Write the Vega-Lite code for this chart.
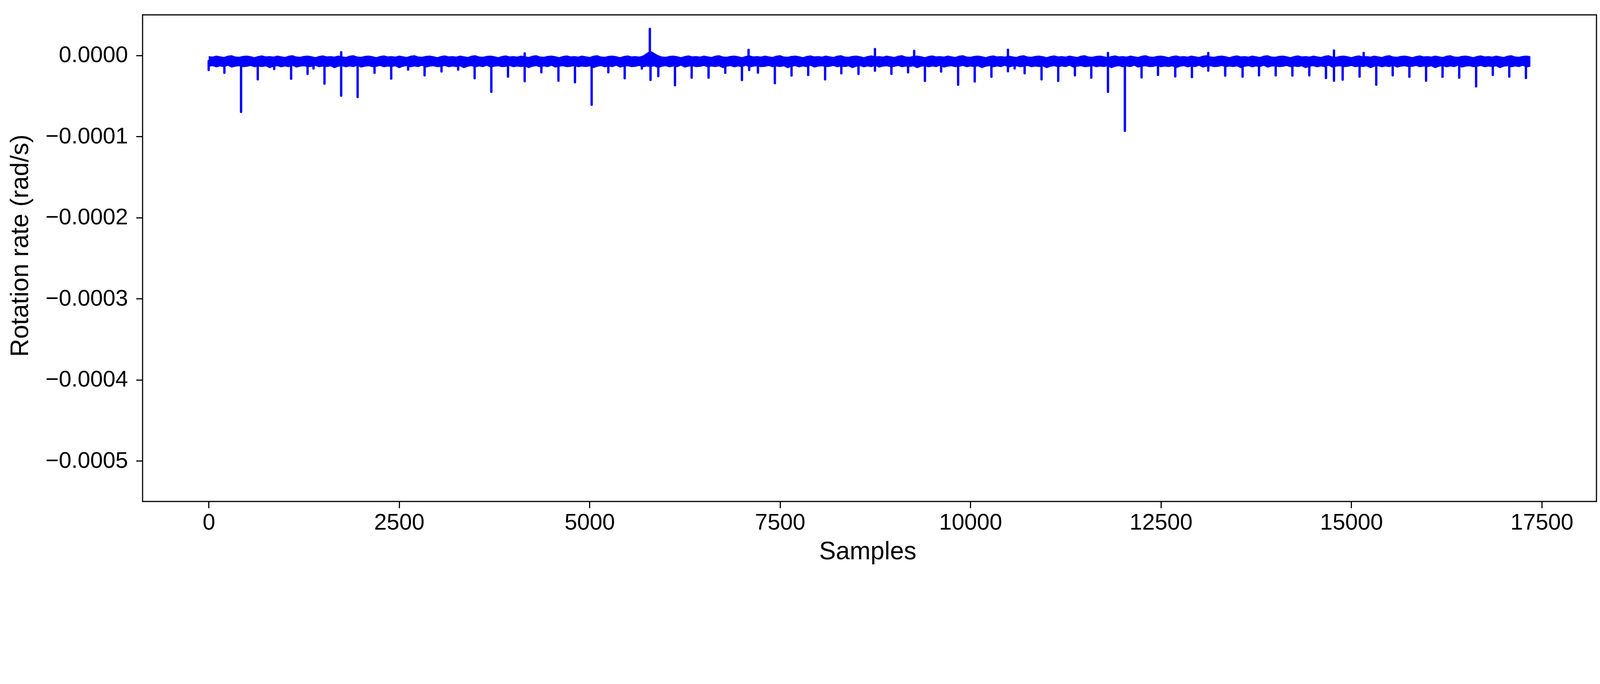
{
"$schema": "https://vega.github.io/schema/vega-lite/v6.json",
"width": 3722,
"height": 1245,
"autosize": {"type": "none"},
"padding": {"left": 365, "top": 38, "right": 41, "bottom": 175},
"background": "white",
"datasets": {
"band": [
{"x":0,"h":-0.8e-6,"l":-14.0e-6},{"x":50,"h":-1.5e-6,"l":-13.2e-6},{"x":100,"h":-0.2e-6,"l":-14.7e-6},{"x":150,"h":-1.1e-6,"l":-13.6e-6},{"x":200,"h":-1.9e-6,"l":-14.4e-6},{"x":250,"h":-0.4e-6,"l":-12.8e-6},{"x":300,"h":0.2e-6,"l":-15.1e-6},{"x":350,"h":-1.3e-6,"l":-13.8e-6},{"x":400,"h":-1.7e-6,"l":-13.4e-6},{"x":450,"h":-0.6e-6,"l":-14.5e-6},{"x":500,"h":-0.3e-6,"l":-14.1e-6},{"x":550,"h":-1.0e-6,"l":-13.0e-6},{"x":600,"h":-2.2e-6,"l":-14.6e-6},{"x":650,"h":-0.7e-6,"l":-13.7e-6},{"x":700,"h":0.0,"l":-14.3e-6},{"x":750,"h":-1.2e-6,"l":-13.5e-6},
{"x":800,"h":-0.8e-6,"l":-15.8e-6},{"x":850,"h":-1.5e-6,"l":-14.0e-6},{"x":900,"h":-0.2e-6,"l":-13.2e-6},{"x":950,"h":-1.1e-6,"l":-14.7e-6},{"x":1000,"h":-1.9e-6,"l":-13.6e-6},{"x":1050,"h":-0.4e-6,"l":-14.4e-6},{"x":1100,"h":0.2e-6,"l":-12.8e-6},{"x":1150,"h":-1.3e-6,"l":-15.1e-6},{"x":1200,"h":-1.7e-6,"l":-13.8e-6},{"x":1250,"h":-0.6e-6,"l":-13.4e-6},{"x":1300,"h":-0.3e-6,"l":-14.5e-6},{"x":1350,"h":-1.0e-6,"l":-14.1e-6},{"x":1400,"h":-2.2e-6,"l":-13.0e-6},{"x":1450,"h":-0.7e-6,"l":-14.6e-6},{"x":1500,"h":0.0,"l":-13.7e-6},{"x":1550,"h":-1.2e-6,"l":-14.3e-6},
{"x":1600,"h":-0.8e-6,"l":-13.5e-6},{"x":1650,"h":-1.5e-6,"l":-15.8e-6},{"x":1700,"h":-0.2e-6,"l":-14.0e-6},{"x":1750,"h":-1.1e-6,"l":-13.2e-6},{"x":1800,"h":-1.9e-6,"l":-14.7e-6},{"x":1850,"h":-0.4e-6,"l":-13.6e-6},{"x":1900,"h":0.2e-6,"l":-14.4e-6},{"x":1950,"h":-1.3e-6,"l":-12.8e-6},{"x":2000,"h":-1.7e-6,"l":-15.1e-6},{"x":2050,"h":-0.6e-6,"l":-13.8e-6},{"x":2100,"h":-0.3e-6,"l":-13.4e-6},{"x":2150,"h":-1.0e-6,"l":-14.5e-6},{"x":2200,"h":-2.2e-6,"l":-14.1e-6},{"x":2250,"h":-0.7e-6,"l":-13.0e-6},{"x":2300,"h":0.0,"l":-14.6e-6},{"x":2350,"h":-1.2e-6,"l":-13.7e-6},
{"x":2400,"h":-0.8e-6,"l":-14.3e-6},{"x":2450,"h":-1.5e-6,"l":-13.5e-6},{"x":2500,"h":-0.2e-6,"l":-15.8e-6},{"x":2550,"h":-1.1e-6,"l":-14.0e-6},{"x":2600,"h":-1.9e-6,"l":-13.2e-6},{"x":2650,"h":-0.4e-6,"l":-14.7e-6},{"x":2700,"h":0.2e-6,"l":-13.6e-6},{"x":2750,"h":-1.3e-6,"l":-14.4e-6},{"x":2800,"h":-1.7e-6,"l":-12.8e-6},{"x":2850,"h":-0.6e-6,"l":-15.1e-6},{"x":2900,"h":-0.3e-6,"l":-13.8e-6},{"x":2950,"h":-1.0e-6,"l":-13.4e-6},{"x":3000,"h":-2.2e-6,"l":-14.5e-6},{"x":3050,"h":-0.7e-6,"l":-14.1e-6},{"x":3100,"h":0.0,"l":-13.0e-6},{"x":3150,"h":-1.2e-6,"l":-14.6e-6},
{"x":3200,"h":-0.8e-6,"l":-13.7e-6},{"x":3250,"h":-1.5e-6,"l":-14.3e-6},{"x":3300,"h":-0.2e-6,"l":-13.5e-6},{"x":3350,"h":-1.1e-6,"l":-15.8e-6},{"x":3400,"h":-1.9e-6,"l":-14.0e-6},{"x":3450,"h":-0.4e-6,"l":-13.2e-6},{"x":3500,"h":0.2e-6,"l":-14.7e-6},{"x":3550,"h":-1.3e-6,"l":-13.6e-6},{"x":3600,"h":-1.7e-6,"l":-14.4e-6},{"x":3650,"h":-0.6e-6,"l":-12.8e-6},{"x":3700,"h":-0.3e-6,"l":-15.1e-6},{"x":3750,"h":-1.0e-6,"l":-13.8e-6},{"x":3800,"h":-2.2e-6,"l":-13.4e-6},{"x":3850,"h":-0.7e-6,"l":-14.5e-6},{"x":3900,"h":0.0,"l":-14.1e-6},{"x":3950,"h":-1.2e-6,"l":-13.0e-6},
{"x":4000,"h":-0.8e-6,"l":-14.6e-6},{"x":4050,"h":-1.5e-6,"l":-13.7e-6},{"x":4100,"h":-0.2e-6,"l":-14.3e-6},{"x":4150,"h":-1.1e-6,"l":-13.5e-6},{"x":4200,"h":-1.9e-6,"l":-15.8e-6},{"x":4250,"h":-0.4e-6,"l":-14.0e-6},{"x":4300,"h":0.2e-6,"l":-13.2e-6},{"x":4350,"h":-1.3e-6,"l":-14.7e-6},{"x":4400,"h":-1.7e-6,"l":-13.6e-6},{"x":4450,"h":-0.6e-6,"l":-14.4e-6},{"x":4500,"h":-0.3e-6,"l":-12.8e-6},{"x":4550,"h":-1.0e-6,"l":-15.1e-6},{"x":4600,"h":-2.2e-6,"l":-13.8e-6},{"x":4650,"h":-0.7e-6,"l":-13.4e-6},{"x":4700,"h":0.0,"l":-14.5e-6},{"x":4750,"h":-1.2e-6,"l":-14.1e-6},
{"x":4800,"h":-0.8e-6,"l":-13.0e-6},{"x":4850,"h":-1.5e-6,"l":-14.6e-6},{"x":4900,"h":-0.2e-6,"l":-13.7e-6},{"x":4950,"h":-1.1e-6,"l":-14.3e-6},{"x":5000,"h":-1.9e-6,"l":-13.5e-6},{"x":5050,"h":-0.4e-6,"l":-15.8e-6},{"x":5100,"h":0.2e-6,"l":-14.0e-6},{"x":5150,"h":-1.3e-6,"l":-13.2e-6},{"x":5200,"h":-1.7e-6,"l":-14.7e-6},{"x":5250,"h":-0.6e-6,"l":-13.6e-6},{"x":5300,"h":-0.3e-6,"l":-14.4e-6},{"x":5350,"h":-1.0e-6,"l":-12.8e-6},{"x":5400,"h":-2.2e-6,"l":-15.1e-6},{"x":5450,"h":-0.7e-6,"l":-13.8e-6},{"x":5500,"h":0.0,"l":-13.4e-6},{"x":5550,"h":-1.2e-6,"l":-14.5e-6},
{"x":5600,"h":-0.8e-6,"l":-14.1e-6},{"x":5650,"h":-1.5e-6,"l":-13.0e-6},{"x":5700,"h":-0.2e-6,"l":-14.6e-6},{"x":5750,"h":3.0e-6,"l":-13.7e-6},{"x":5800,"h":5.8e-6,"l":-14.3e-6},{"x":5850,"h":3.0e-6,"l":-13.5e-6},{"x":5900,"h":0.2e-6,"l":-15.8e-6},{"x":5950,"h":-1.3e-6,"l":-14.0e-6},{"x":6000,"h":-1.7e-6,"l":-13.2e-6},{"x":6050,"h":-0.6e-6,"l":-14.7e-6},{"x":6100,"h":-0.3e-6,"l":-13.6e-6},{"x":6150,"h":-1.0e-6,"l":-14.4e-6},{"x":6200,"h":-2.2e-6,"l":-12.8e-6},{"x":6250,"h":-0.7e-6,"l":-15.1e-6},{"x":6300,"h":0.0,"l":-13.8e-6},{"x":6350,"h":-1.2e-6,"l":-13.4e-6},
{"x":6400,"h":-0.8e-6,"l":-14.5e-6},{"x":6450,"h":-1.5e-6,"l":-14.1e-6},{"x":6500,"h":-0.2e-6,"l":-13.0e-6},{"x":6550,"h":-1.1e-6,"l":-14.6e-6},{"x":6600,"h":-1.9e-6,"l":-13.7e-6},{"x":6650,"h":-0.4e-6,"l":-14.3e-6},{"x":6700,"h":0.2e-6,"l":-13.5e-6},{"x":6750,"h":-1.3e-6,"l":-15.8e-6},{"x":6800,"h":-1.7e-6,"l":-14.0e-6},{"x":6850,"h":-0.6e-6,"l":-13.2e-6},{"x":6900,"h":-0.3e-6,"l":-14.7e-6},{"x":6950,"h":-1.0e-6,"l":-13.6e-6},{"x":7000,"h":-2.2e-6,"l":-14.4e-6},{"x":7050,"h":-0.7e-6,"l":-12.8e-6},{"x":7100,"h":0.0,"l":-15.1e-6},{"x":7150,"h":-1.2e-6,"l":-13.8e-6},
{"x":7200,"h":-0.8e-6,"l":-13.4e-6},{"x":7250,"h":-1.5e-6,"l":-14.5e-6},{"x":7300,"h":-0.2e-6,"l":-14.1e-6},{"x":7350,"h":-1.1e-6,"l":-13.0e-6},{"x":7400,"h":-1.9e-6,"l":-14.6e-6},{"x":7450,"h":-0.4e-6,"l":-13.7e-6},{"x":7500,"h":0.2e-6,"l":-14.3e-6},{"x":7550,"h":-1.3e-6,"l":-13.5e-6},{"x":7600,"h":-1.7e-6,"l":-15.8e-6},{"x":7650,"h":-0.6e-6,"l":-14.0e-6},{"x":7700,"h":-0.3e-6,"l":-13.2e-6},{"x":7750,"h":-1.0e-6,"l":-14.7e-6},{"x":7800,"h":-2.2e-6,"l":-13.6e-6},{"x":7850,"h":-0.7e-6,"l":-14.4e-6},{"x":7900,"h":0.0,"l":-12.8e-6},{"x":7950,"h":-1.2e-6,"l":-15.1e-6},
{"x":8000,"h":-0.8e-6,"l":-13.8e-6},{"x":8050,"h":-1.5e-6,"l":-13.4e-6},{"x":8100,"h":-0.2e-6,"l":-14.5e-6},{"x":8150,"h":-1.1e-6,"l":-14.1e-6},{"x":8200,"h":-1.9e-6,"l":-13.0e-6},{"x":8250,"h":-0.4e-6,"l":-14.6e-6},{"x":8300,"h":0.2e-6,"l":-13.7e-6},{"x":8350,"h":-1.3e-6,"l":-14.3e-6},{"x":8400,"h":-1.7e-6,"l":-13.5e-6},{"x":8450,"h":-0.6e-6,"l":-15.8e-6},{"x":8500,"h":-0.3e-6,"l":-14.0e-6},{"x":8550,"h":-1.0e-6,"l":-13.2e-6},{"x":8600,"h":-2.2e-6,"l":-14.7e-6},{"x":8650,"h":-0.7e-6,"l":-13.6e-6},{"x":8700,"h":0.0,"l":-14.4e-6},{"x":8750,"h":-1.2e-6,"l":-12.8e-6},
{"x":8800,"h":-0.8e-6,"l":-15.1e-6},{"x":8850,"h":-1.5e-6,"l":-13.8e-6},{"x":8900,"h":-0.2e-6,"l":-13.4e-6},{"x":8950,"h":-1.1e-6,"l":-14.5e-6},{"x":9000,"h":-1.9e-6,"l":-14.1e-6},{"x":9050,"h":-0.4e-6,"l":-13.0e-6},{"x":9100,"h":0.2e-6,"l":-14.6e-6},{"x":9150,"h":-1.3e-6,"l":-13.7e-6},{"x":9200,"h":-1.7e-6,"l":-14.3e-6},{"x":9250,"h":-0.6e-6,"l":-13.5e-6},{"x":9300,"h":-0.3e-6,"l":-15.8e-6},{"x":9350,"h":-1.0e-6,"l":-14.0e-6},{"x":9400,"h":-2.2e-6,"l":-13.2e-6},{"x":9450,"h":-0.7e-6,"l":-14.7e-6},{"x":9500,"h":0.0,"l":-13.6e-6},{"x":9550,"h":-1.2e-6,"l":-14.4e-6},
{"x":9600,"h":-0.8e-6,"l":-12.8e-6},{"x":9650,"h":-1.5e-6,"l":-15.1e-6},{"x":9700,"h":-0.2e-6,"l":-13.8e-6},{"x":9750,"h":-1.1e-6,"l":-13.4e-6},{"x":9800,"h":-1.9e-6,"l":-14.5e-6},{"x":9850,"h":-0.4e-6,"l":-14.1e-6},{"x":9900,"h":0.2e-6,"l":-13.0e-6},{"x":9950,"h":-1.3e-6,"l":-14.6e-6},{"x":10000,"h":-1.7e-6,"l":-13.7e-6},{"x":10050,"h":-0.6e-6,"l":-14.3e-6},{"x":10100,"h":-0.3e-6,"l":-13.5e-6},{"x":10150,"h":-1.0e-6,"l":-15.8e-6},{"x":10200,"h":-2.2e-6,"l":-14.0e-6},{"x":10250,"h":-0.7e-6,"l":-13.2e-6},{"x":10300,"h":0.0,"l":-14.7e-6},{"x":10350,"h":-1.2e-6,"l":-13.6e-6},
{"x":10400,"h":-0.8e-6,"l":-14.4e-6},{"x":10450,"h":-1.5e-6,"l":-12.8e-6},{"x":10500,"h":-0.2e-6,"l":-15.1e-6},{"x":10550,"h":-1.1e-6,"l":-13.8e-6},{"x":10600,"h":-1.9e-6,"l":-13.4e-6},{"x":10650,"h":-0.4e-6,"l":-14.5e-6},{"x":10700,"h":0.2e-6,"l":-14.1e-6},{"x":10750,"h":-1.3e-6,"l":-13.0e-6},{"x":10800,"h":-1.7e-6,"l":-14.6e-6},{"x":10850,"h":-0.6e-6,"l":-13.7e-6},{"x":10900,"h":-0.3e-6,"l":-14.3e-6},{"x":10950,"h":-1.0e-6,"l":-13.5e-6},{"x":11000,"h":-2.2e-6,"l":-15.8e-6},{"x":11050,"h":-0.7e-6,"l":-14.0e-6},{"x":11100,"h":0.0,"l":-13.2e-6},{"x":11150,"h":-1.2e-6,"l":-14.7e-6},
{"x":11200,"h":-0.8e-6,"l":-13.6e-6},{"x":11250,"h":-1.5e-6,"l":-14.4e-6},{"x":11300,"h":-0.2e-6,"l":-12.8e-6},{"x":11350,"h":-1.1e-6,"l":-15.1e-6},{"x":11400,"h":-1.9e-6,"l":-13.8e-6},{"x":11450,"h":-0.4e-6,"l":-13.4e-6},{"x":11500,"h":0.2e-6,"l":-14.5e-6},{"x":11550,"h":-1.3e-6,"l":-14.1e-6},{"x":11600,"h":-1.7e-6,"l":-13.0e-6},{"x":11650,"h":-0.6e-6,"l":-14.6e-6},{"x":11700,"h":-0.3e-6,"l":-13.7e-6},{"x":11750,"h":-1.0e-6,"l":-14.3e-6},{"x":11800,"h":-2.2e-6,"l":-13.5e-6},{"x":11850,"h":-0.7e-6,"l":-15.8e-6},{"x":11900,"h":0.0,"l":-14.0e-6},{"x":11950,"h":-1.2e-6,"l":-13.2e-6},
{"x":12000,"h":-0.8e-6,"l":-14.7e-6},{"x":12050,"h":-1.5e-6,"l":-13.6e-6},{"x":12100,"h":-0.2e-6,"l":-14.4e-6},{"x":12150,"h":-1.1e-6,"l":-12.8e-6},{"x":12200,"h":-1.9e-6,"l":-15.1e-6},{"x":12250,"h":-0.4e-6,"l":-13.8e-6},{"x":12300,"h":0.2e-6,"l":-13.4e-6},{"x":12350,"h":-1.3e-6,"l":-14.5e-6},{"x":12400,"h":-1.7e-6,"l":-14.1e-6},{"x":12450,"h":-0.6e-6,"l":-13.0e-6},{"x":12500,"h":-0.3e-6,"l":-14.6e-6},{"x":12550,"h":-1.0e-6,"l":-13.7e-6},{"x":12600,"h":-2.2e-6,"l":-14.3e-6},{"x":12650,"h":-0.7e-6,"l":-13.5e-6},{"x":12700,"h":0.0,"l":-15.8e-6},{"x":12750,"h":-1.2e-6,"l":-14.0e-6},
{"x":12800,"h":-0.8e-6,"l":-13.2e-6},{"x":12850,"h":-1.5e-6,"l":-14.7e-6},{"x":12900,"h":-0.2e-6,"l":-13.6e-6},{"x":12950,"h":-1.1e-6,"l":-14.4e-6},{"x":13000,"h":-1.9e-6,"l":-12.8e-6},{"x":13050,"h":-0.4e-6,"l":-15.1e-6},{"x":13100,"h":0.2e-6,"l":-13.8e-6},{"x":13150,"h":-1.3e-6,"l":-13.4e-6},{"x":13200,"h":-1.7e-6,"l":-14.5e-6},{"x":13250,"h":-0.6e-6,"l":-14.1e-6},{"x":13300,"h":-0.3e-6,"l":-13.0e-6},{"x":13350,"h":-1.0e-6,"l":-14.6e-6},{"x":13400,"h":-2.2e-6,"l":-13.7e-6},{"x":13450,"h":-0.7e-6,"l":-14.3e-6},{"x":13500,"h":0.0,"l":-13.5e-6},{"x":13550,"h":-1.2e-6,"l":-15.8e-6},
{"x":13600,"h":-0.8e-6,"l":-14.0e-6},{"x":13650,"h":-1.5e-6,"l":-13.2e-6},{"x":13700,"h":-0.2e-6,"l":-14.7e-6},{"x":13750,"h":-1.1e-6,"l":-13.6e-6},{"x":13800,"h":-1.9e-6,"l":-14.4e-6},{"x":13850,"h":-0.4e-6,"l":-12.8e-6},{"x":13900,"h":0.2e-6,"l":-15.1e-6},{"x":13950,"h":-1.3e-6,"l":-13.8e-6},{"x":14000,"h":-1.7e-6,"l":-13.4e-6},{"x":14050,"h":-0.6e-6,"l":-14.5e-6},{"x":14100,"h":-0.3e-6,"l":-14.1e-6},{"x":14150,"h":-1.0e-6,"l":-13.0e-6},{"x":14200,"h":-2.2e-6,"l":-14.6e-6},{"x":14250,"h":-0.7e-6,"l":-13.7e-6},{"x":14300,"h":0.0,"l":-14.3e-6},{"x":14350,"h":-1.2e-6,"l":-13.5e-6},
{"x":14400,"h":-0.8e-6,"l":-15.8e-6},{"x":14450,"h":-1.5e-6,"l":-14.0e-6},{"x":14500,"h":-0.2e-6,"l":-13.2e-6},{"x":14550,"h":-1.1e-6,"l":-14.7e-6},{"x":14600,"h":-1.9e-6,"l":-13.6e-6},{"x":14650,"h":-0.4e-6,"l":-14.4e-6},{"x":14700,"h":0.2e-6,"l":-12.8e-6},{"x":14750,"h":-1.3e-6,"l":-15.1e-6},{"x":14800,"h":-1.7e-6,"l":-13.8e-6},{"x":14850,"h":-0.6e-6,"l":-13.4e-6},{"x":14900,"h":-0.3e-6,"l":-14.5e-6},{"x":14950,"h":-1.0e-6,"l":-14.1e-6},{"x":15000,"h":-2.2e-6,"l":-13.0e-6},{"x":15050,"h":-0.7e-6,"l":-14.6e-6},{"x":15100,"h":0.0,"l":-13.7e-6},{"x":15150,"h":-1.2e-6,"l":-14.3e-6},
{"x":15200,"h":-0.8e-6,"l":-13.5e-6},{"x":15250,"h":-1.5e-6,"l":-15.8e-6},{"x":15300,"h":-0.2e-6,"l":-14.0e-6},{"x":15350,"h":-1.1e-6,"l":-13.2e-6},{"x":15400,"h":-1.9e-6,"l":-14.7e-6},{"x":15450,"h":-0.4e-6,"l":-13.6e-6},{"x":15500,"h":0.2e-6,"l":-14.4e-6},{"x":15550,"h":-1.3e-6,"l":-12.8e-6},{"x":15600,"h":-1.7e-6,"l":-15.1e-6},{"x":15650,"h":-0.6e-6,"l":-13.8e-6},{"x":15700,"h":-0.3e-6,"l":-13.4e-6},{"x":15750,"h":-1.0e-6,"l":-14.5e-6},{"x":15800,"h":-2.2e-6,"l":-14.1e-6},{"x":15850,"h":-0.7e-6,"l":-13.0e-6},{"x":15900,"h":0.0,"l":-14.6e-6},{"x":15950,"h":-1.2e-6,"l":-13.7e-6},
{"x":16000,"h":-0.8e-6,"l":-14.3e-6},{"x":16050,"h":-1.5e-6,"l":-13.5e-6},{"x":16100,"h":-0.2e-6,"l":-15.8e-6},{"x":16150,"h":-1.1e-6,"l":-14.0e-6},{"x":16200,"h":-1.9e-6,"l":-13.2e-6},{"x":16250,"h":-0.4e-6,"l":-14.7e-6},{"x":16300,"h":0.2e-6,"l":-13.6e-6},{"x":16350,"h":-1.3e-6,"l":-14.4e-6},{"x":16400,"h":-1.7e-6,"l":-12.8e-6},{"x":16450,"h":-0.6e-6,"l":-15.1e-6},{"x":16500,"h":-0.3e-6,"l":-13.8e-6},{"x":16550,"h":-1.0e-6,"l":-13.4e-6},{"x":16600,"h":-2.2e-6,"l":-14.5e-6},{"x":16650,"h":-0.7e-6,"l":-14.1e-6},{"x":16700,"h":0.0,"l":-13.0e-6},{"x":16750,"h":-1.2e-6,"l":-14.6e-6},
{"x":16800,"h":-0.8e-6,"l":-13.7e-6},{"x":16850,"h":-1.5e-6,"l":-14.3e-6},{"x":16900,"h":-0.2e-6,"l":-13.5e-6},{"x":16950,"h":-1.1e-6,"l":-15.8e-6},{"x":17000,"h":-1.9e-6,"l":-14.0e-6},{"x":17050,"h":-0.4e-6,"l":-13.2e-6},{"x":17100,"h":0.2e-6,"l":-14.7e-6},{"x":17150,"h":-1.3e-6,"l":-13.6e-6},{"x":17200,"h":-1.7e-6,"l":-14.4e-6},{"x":17250,"h":-0.6e-6,"l":-12.8e-6},{"x":17300,"h":-0.3e-6,"l":-15.1e-6},{"x":17350,"h":-1.0e-6,"l":-13.8e-6}
],
"spikes": [
{"x":0,"t":-18.0e-6},{"x":206,"t":-21.5e-6},{"x":425,"t":-69.6e-6},{"x":644,"t":-29.5e-6},{"x":860,"t":-16.8e-6},{"x":1082,"t":-28.8e-6},{"x":1298,"t":-22.8e-6},{"x":1376,"t":-16.1e-6},{"x":1520,"t":-34.8e-6},{"x":1739,"t":-49.6e-6},{"x":1955,"t":-51.3e-6},
{"x":2177,"t":-21.5e-6},{"x":2396,"t":-28.6e-6},{"x":2618,"t":-17.5e-6},{"x":2834,"t":-24.6e-6},{"x":3056,"t":-19.7e-6},{"x":3275,"t":-17.5e-6},{"x":3491,"t":-28.2e-6},{"x":3710,"t":-44.9e-6},{"x":3929,"t":-26.2e-6},{"x":4148,"t":-31.8e-6},
{"x":4367,"t":-20.8e-6},{"x":4591,"t":-31.2e-6},{"x":4808,"t":-33.1e-6},{"x":5027,"t":-60.9e-6},{"x":5246,"t":-20.8e-6},{"x":5461,"t":-28.2e-6},{"x":5686,"t":-16.1e-6},{"x":5800,"t":-30.2e-6},{"x":5902,"t":-25.5e-6},{"x":6121,"t":-36.8e-6},
{"x":6340,"t":-27.5e-6},{"x":6562,"t":-27.5e-6},{"x":6781,"t":-21.5e-6},{"x":7000,"t":-30.4e-6},{"x":7095,"t":-18.0e-6},{"x":7210,"t":-21.2e-6},{"x":7432,"t":-34.2e-6},{"x":7651,"t":-24.8e-6},{"x":7870,"t":-24.1e-6},{"x":8092,"t":-29.5e-6},
{"x":8305,"t":-22.1e-6},{"x":8530,"t":-22.8e-6},{"x":8746,"t":-18.8e-6},{"x":8962,"t":-22.8e-6},{"x":9181,"t":-20.8e-6},{"x":9402,"t":-31.5e-6},{"x":9615,"t":-19.9e-6},{"x":9838,"t":-36.2e-6},{"x":10056,"t":-32.2e-6},{"x":10275,"t":-26.4e-6},
{"x":10492,"t":-19.5e-6},{"x":10580,"t":-16.0e-6},{"x":10711,"t":-22.1e-6},{"x":10933,"t":-29.5e-6},{"x":11152,"t":-31.5e-6},{"x":11371,"t":-24.6e-6},{"x":11586,"t":-27.5e-6},{"x":11805,"t":-44.9e-6},{"x":12027,"t":-93.0e-6},{"x":12246,"t":-27.1e-6},
{"x":12462,"t":-24.1e-6},{"x":12688,"t":-25.9e-6},{"x":12907,"t":-26.8e-6},{"x":13122,"t":-18.8e-6},{"x":13344,"t":-24.8e-6},{"x":13572,"t":-26.2e-6},{"x":13788,"t":-24.6e-6},{"x":14007,"t":-24.6e-6},{"x":14226,"t":-24.8e-6},{"x":14448,"t":-24.6e-6},
{"x":14667,"t":-27.8e-6},{"x":14772,"t":-31.2e-6},{"x":14886,"t":-29.9e-6},{"x":15108,"t":-26.2e-6},{"x":15327,"t":-36.2e-6},{"x":15543,"t":-24.6e-6},{"x":15762,"t":-26.4e-6},{"x":15981,"t":-31.2e-6},{"x":16197,"t":-26.4e-6},{"x":16416,"t":-27.5e-6},
{"x":16638,"t":-38.2e-6},{"x":16857,"t":-24.1e-6},{"x":17073,"t":-26.2e-6},{"x":17292,"t":-27.8e-6},
{"x":1739,"t":3.8e-6},{"x":4148,"t":2.5e-6},{"x":5791,"t":32.6e-6},{"x":7087,"t":6.9e-6},{"x":8746,"t":7.8e-6},{"x":9261,"t":5.5e-6},{"x":10492,"t":6.9e-6},{"x":11805,"t":3.0e-6},{"x":13122,"t":3.0e-6},{"x":14772,"t":6.0e-6},{"x":15162,"t":3.0e-6}
]
},
"layer": [
{
"data": {"name": "band"},
"mark": {"type": "area", "color": "#0000ff", "clip": true},
"encoding": {
"x": {"field": "x", "type": "quantitative", "title": "Samples",
"scale": {"domain": [-868, 18218], "nice": false, "zero": false},
"axis": {"values": [0, 2500, 5000, 7500, 10000, 12500, 15000, 17500], "format": "d", "labelPadding": 9, "labelLimit": 1000, "titleX": 1856, "titleY": 147, "titleBaseline": "alphabetic"}},
"y": {"field": "h", "type": "quantitative", "title": "Rotation rate (rad/s)",
"scale": {"domain": [-0.00055, 0.00005], "nice": false, "zero": false},
"axis": {"values": [0, -0.0001, -0.0002, -0.0003, -0.0004, -0.0005], "format": ".4f", "labelPadding": 21, "labelLimit": 1000, "titleX": -294, "titleY": 590, "titleAngle": -90, "titleBaseline": "alphabetic", "titleAlign": "center"}},
"y2": {"field": "l"}
}
},
{
"data": {"name": "spikes"},
"mark": {"type": "rule", "color": "#0000ff", "strokeWidth": 6, "strokeCap": "round", "clip": true},
"encoding": {
"x": {"field": "x", "type": "quantitative", "title": "Samples"},
"y": {"field": "t", "type": "quantitative", "title": "Rotation rate (rad/s)"},
"y2": {"datum": -0.000007}
}
}
],
"config": {
"view": {"stroke": "#000000", "strokeWidth": 2.9},
"axis": {"domain": false, "grid": false, "ticks": true, "tickSize": 16.7, "tickWidth": 2.9, "tickColor": "#000000",
"labelFont": "Liberation Sans", "labelFontSize": 58, "labelColor": "#000000",
"titleFont": "Liberation Sans", "titleFontSize": 64, "titleFontWeight": "normal", "titleColor": "#000000"}
}
}
